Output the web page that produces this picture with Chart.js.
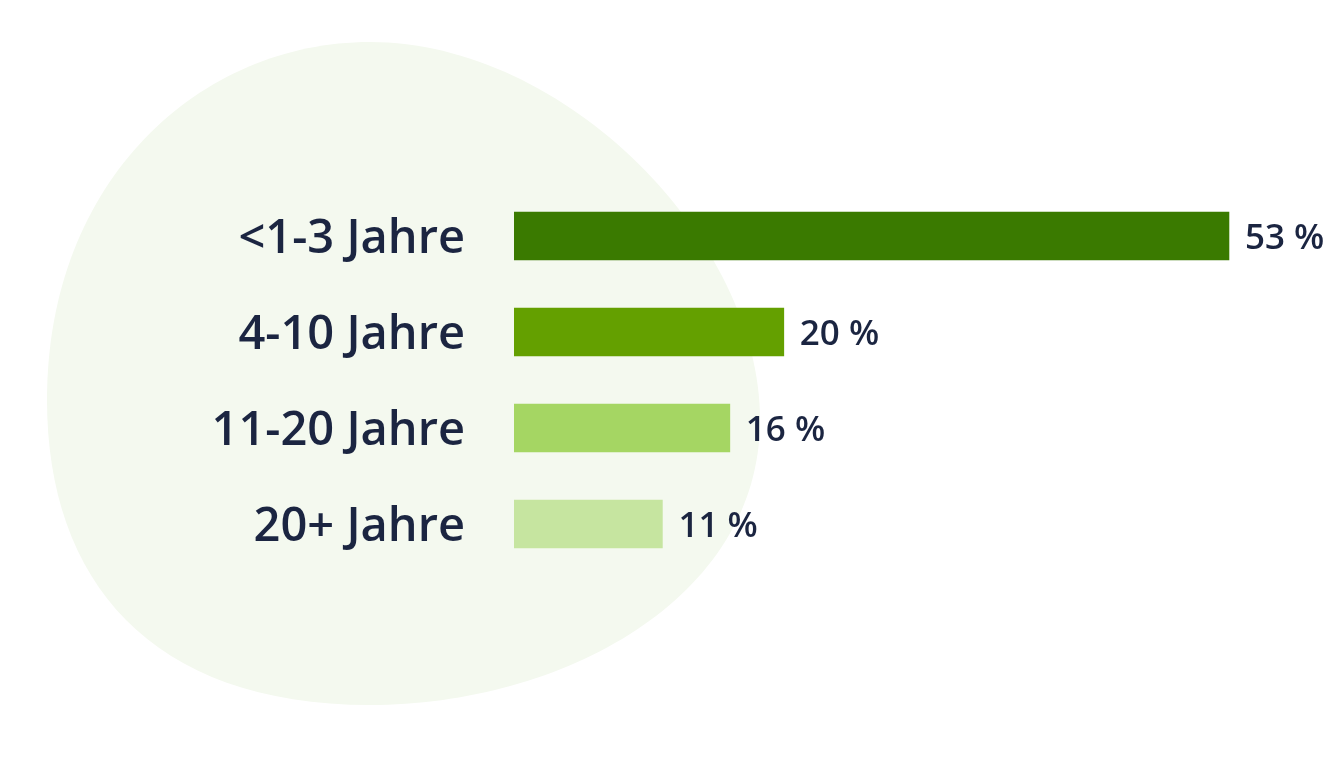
<!DOCTYPE html>
<html>
<head>
<meta charset="utf-8">
<script src="https://cdn.jsdelivr.net/npm/chart.js@4/dist/chart.umd.min.js"></script>
<style>
  html, body { margin: 0; padding: 0; background: #ffffff; }
  #wrap { position: relative; width: 1328px; height: 761px; }
</style>
</head>
<body>
<div id="wrap"><canvas id="c" width="1328" height="761"></canvas></div>
<script>
const categories = ['<1-3 Jahre', '4-10 Jahre', '11-20 Jahre', '20+ Jahre'];
const values = [53, 20, 16, 11];
const valueLabels = ['53 %', '20 %', '16 %', '11 %'];
const barColors = ['#3a7a00', '#64a000', '#a5d663', '#c6e5a0'];

const textColor = '#1b2541';
const fontFamily = "'Open Sans', 'Noto Sans', sans-serif";

const blobPlugin = {
  id: 'blob',
  beforeDraw(chart) {
    const ctx = chart.ctx;
    ctx.save();
    ctx.fillStyle = '#f4f9ef';
    ctx.beginPath();
    ctx.moveTo(370, 42);
    ctx.bezierCurveTo(565, 42, 760, 240, 760, 420);
    ctx.bezierCurveTo(760, 600, 560, 705, 370, 705);
    ctx.bezierCurveTo(150, 705, 47, 580, 47, 400);
    ctx.bezierCurveTo(47, 180, 200, 42, 370, 42);
    ctx.closePath();
    ctx.fill();
    ctx.restore();
  }
};

const valueLabelPlugin = {
  id: 'valueLabels',
  afterDatasetsDraw(chart) {
    const ctx = chart.ctx;
    const meta = chart.getDatasetMeta(0);
    ctx.save();
    ctx.fillStyle = textColor;
    ctx.font = "600 35px " + fontFamily;
    ctx.textAlign = 'left';
    ctx.textBaseline = 'middle';
    meta.data.forEach((bar, i) => {
      ctx.fillText(valueLabels[i], bar.x + 16, bar.y + 3);
    });
    ctx.restore();
  }
};

new Chart(document.getElementById('c'), {
  type: 'bar',
  data: {
    labels: categories,
    datasets: [{
      data: values,
      backgroundColor: barColors,
      borderWidth: 0,
      barThickness: 48
    }]
  },
  options: {
    indexAxis: 'y',
    responsive: false,
    animation: false,
    layout: { padding: { top: 188, bottom: 189, left: 0, right: 4.6 } },
    plugins: {
      legend: { display: false },
      tooltip: { enabled: false }
    },
    scales: {
      x: {
        display: false,
        min: 0,
        max: 60
      },
      y: {
        afterFit(scale) { scale.width = 514; },
        grid: { display: false, drawTicks: false },
        border: { display: false },
        ticks: {
          padding: 49,
          labelOffset: 4,
          color: textColor,
          font: { family: fontFamily, size: 47, weight: '600' }
        }
      }
    }
  },
  plugins: [blobPlugin, valueLabelPlugin]
});
</script>
</body>
</html>
